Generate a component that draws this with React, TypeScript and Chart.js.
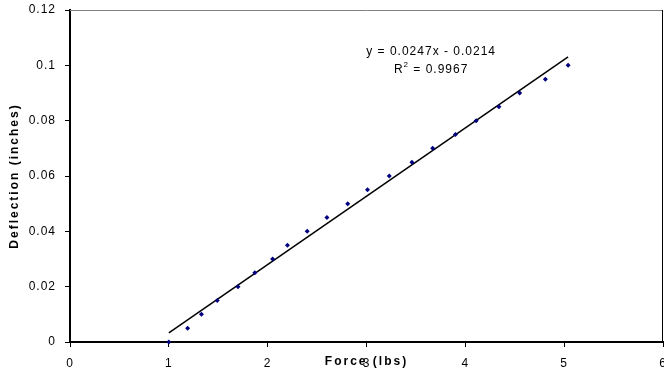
import React, { useEffect, useRef } from "react";
import { Chart, registerables } from "chart.js";

Chart.register(...registerables);

const forceLbs = [1.0, 1.19, 1.33, 1.49, 1.7, 1.87, 2.05, 2.2, 2.4, 2.6, 2.81, 3.01, 3.23, 3.46, 3.67, 3.9, 4.11, 4.34, 4.55, 4.81, 5.04];
const deflectionIn = [0, 0.005, 0.01, 0.015, 0.02, 0.025, 0.03, 0.035, 0.04, 0.045, 0.05, 0.055, 0.06, 0.065, 0.07, 0.075, 0.08, 0.085, 0.09, 0.095, 0.1];
const trendSlope = 0.0247;
const trendIntercept = -0.0214;
const equationText = "y = 0.0247x - 0.0214";
const r2Value = "0.9967";
const xTitle = "Force (lbs)";
const yTitle = "Deflection (inches)";

const FONT = "'Liberation Sans', Arial, sans-serif";

export default function App() {
  const ref = useRef<HTMLCanvasElement>(null);
  useEffect(() => {
    const canvas = ref.current!;
    const xMin = Math.min(...forceLbs);
    const xMax = Math.max(...forceLbs);
    const trend = [xMin, xMax].map((x) => ({ x, y: trendSlope * x + trendIntercept }));
    const points = forceLbs.map((x, i) => ({ x, y: deflectionIn[i] }));

    const deco = {
      id: "deco",
      beforeDraw(chart: any) {
        chart.ctx.letterSpacing = "1px";
      },
      afterDraw(chart: any) {
        const { ctx, chartArea } = chart;
        const { left, right, top, bottom } = chartArea;
        ctx.save();
        ctx.lineWidth = 1;
        ctx.strokeStyle = "#808080";
        ctx.beginPath();
        ctx.moveTo(left, top + 0.5);
        ctx.lineTo(right, top + 0.5);
        ctx.stroke();
        ctx.strokeStyle = "#000";
        ctx.beginPath();
        ctx.moveTo(right - 0.5, top);
        ctx.lineTo(right - 0.5, bottom);
        ctx.stroke();

        // equation annotation
        ctx.fillStyle = "#000";
        ctx.letterSpacing = "1px";
        ctx.font = `12px ${FONT}`;
        ctx.textAlign = "center";
        ctx.textBaseline = "middle";
        const ax = left + (right - left) * 0.609;
        const ay = top + (bottom - top) * 0.127;
        ctx.fillText(equationText, ax, ay);
        const pre = "R";
        const post = " = " + r2Value;
        const wPre = ctx.measureText(pre).width;
        ctx.font = `8px ${FONT}`;
        const wSup = ctx.measureText("2").width;
        ctx.font = `12px ${FONT}`;
        const wPost = ctx.measureText(post).width;
        const total = wPre + wSup + wPost;
        let sx = ax - total / 2;
        const ry = ay + 18;
        ctx.textAlign = "left";
        ctx.fillText(pre, sx, ry);
        sx += wPre;
        ctx.font = `8px ${FONT}`;
        ctx.fillText("2", sx, ry - 5);
        sx += wSup;
        ctx.font = `12px ${FONT}`;
        ctx.fillText(post, sx, ry);

        // axis titles
        ctx.font = `bold 12px ${FONT}`;
        ctx.letterSpacing = "2px";
        ctx.textAlign = "center";
        ctx.textBaseline = "middle";
        ctx.fillText(xTitle, (left + right) / 2, bottom + 20);
        ctx.translate(15, (top + bottom) / 2);
        ctx.rotate(-Math.PI / 2);
        ctx.fillText(yTitle, 0, 0);
        ctx.restore();
        ctx.letterSpacing = "0px";
      },
    };

    const chart = new Chart(canvas, {
      type: "scatter",
      data: {
        datasets: [
          {
            label: "Deflection",
            data: points,
            pointStyle: "rectRot",
            radius: 2.5,
            backgroundColor: "#000080",
            borderColor: "#000080",
            borderWidth: 0,
            clip: false,
          } as any,
          {
            label: "Trend",
            type: "line",
            data: trend,
            borderColor: "#000",
            borderWidth: 1.5,
            pointRadius: 0,
            fill: false,
          } as any,
        ],
      },
      options: {
        responsive: false,
        animation: false,
        layout: { autoPadding: false, padding: { top: 10, right: 1, left: 0, bottom: 0 } } as any,
        plugins: { legend: { display: false }, tooltip: { enabled: false } },
        scales: {
          x: {
            type: "linear",
            min: 0,
            max: 6,
            ticks: { stepSize: 1, color: "#000", font: { size: 12, family: FONT }, padding: 9, maxRotation: 0 },
            grid: { drawOnChartArea: false, tickLength: 5, color: "#000", lineWidth: 1 },
            border: { color: "#000", width: 2 },
            afterFit: (s: any) => { s.height = 31; s.paddingLeft = 0; s.paddingRight = 0; },
          },
          y: {
            type: "linear",
            min: 0,
            max: 0.12,
            ticks: {
              stepSize: 0.02,
              color: "#000",
              font: { size: 12, family: FONT },
              padding: 9,
              callback: (v: any) => String(Number(Number(v).toFixed(2))),
            },
            grid: { drawOnChartArea: false, tickLength: 5, color: "#000", lineWidth: 1 },
            border: { color: "#000", width: 2 },
            afterFit: (s: any) => { s.width = 70; s.paddingTop = 0; s.paddingBottom = 0; },
          },
        },
      },
      plugins: [deco],
    });
    return () => chart.destroy();
  }, []);

  return (
    <div style={{ position: "absolute", left: 0, top: 0, width: 664, height: 373, background: "#fff" }}>
      <canvas ref={ref} width={664} height={373} style={{ display: "block", width: 664, height: 373 }} />
    </div>
  );
}
